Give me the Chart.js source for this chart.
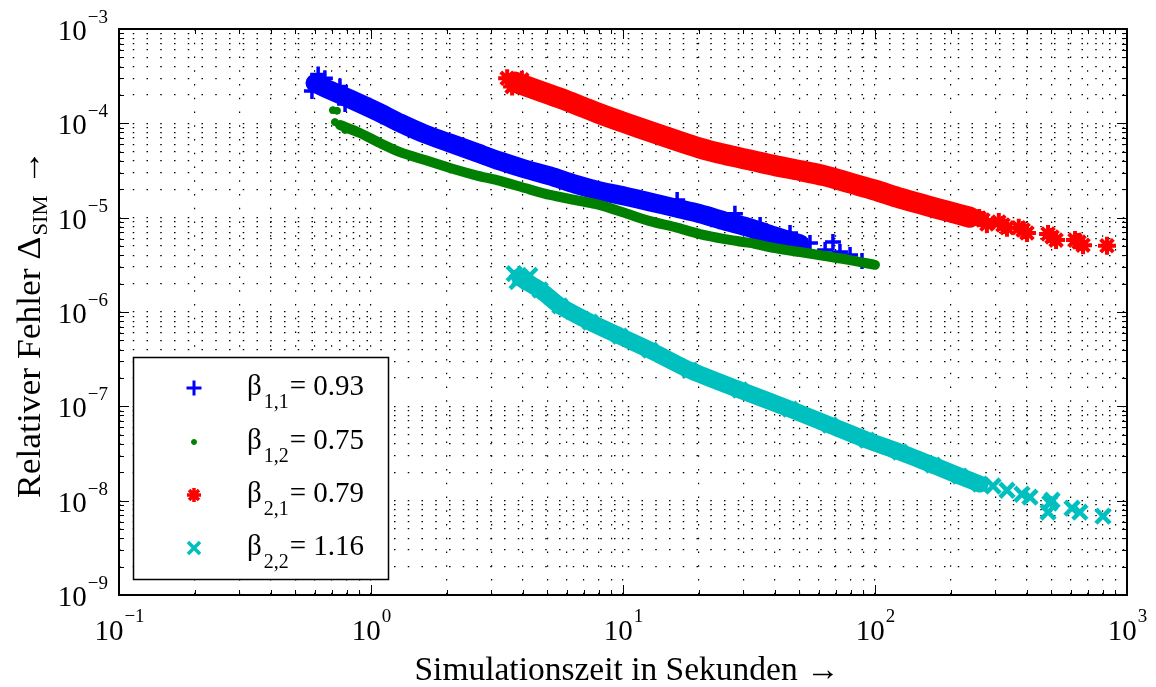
<!DOCTYPE html>
<html>
<head>
<meta charset="utf-8">
<script src="https://cdn.jsdelivr.net/npm/chart.js@4.4.1/dist/chart.umd.min.js"></script>
<style>
  html, body { margin: 0; padding: 0; background: #fff; }
  #wrap { width: 1156px; height: 687px; }
</style>
</head>
<body>
<div id="wrap"><canvas id="errChart" width="1156" height="687"></canvas></div>
<script>
// axis decades and their exponent labels
const xMajor = [0.1, 1, 10, 100, 1000];
const xExp   = ['\u22121', '0', '1', '2', '3'];
const yMajor = [1e-9, 1e-8, 1e-7, 1e-6, 1e-5, 1e-4, 1e-3];
const yExp   = ['\u22129', '\u22128', '\u22127', '\u22126', '\u22125', '\u22124', '\u22123'];

// legend text
const legendSub = ['1,1', '1,2', '2,1', '2,2'];
const legendVal = ['0.93', '0.75', '0.79', '1.16'];

// beta 1,1 (blue +): dense band centre, then loose points
const b11BodyX = [0.600, 0.687, 0.826, 1.086, 1.303, 1.637, 2.057, 2.587, 3.25, 4.08, 5.13, 6.45, 8.11, 10.2, 12.8, 16.1, 20.2, 25.4, 31.9, 40.1, 50.4];
const b11BodyY = [2.67e-4, 2.25e-4, 1.81e-4, 1.29e-4, 1.01e-4, 7.7e-5, 6.18e-5, 4.96e-5, 3.98e-5, 3.28e-5, 2.77e-5, 2.27e-5, 1.92e-5, 1.69e-5, 1.47e-5, 1.27e-5, 1.10e-5, 9.2e-6, 7.8e-6, 6.38e-6, 5.27e-6];
const b11SpotX = [0.617, 0.583, 0.656, 0.753, 0.789, 0.62, 16.4, 27.8, 35.0, 46.0, 55.2, 63.4, 68.1, 72.6, 79.6, 88.8];
const b11SpotY = [3.30e-4, 2.2e-4, 3.0e-4, 2.45e-4, 1.6e-4, 2.6e-4, 1.54e-5, 1.10e-5, 8.35e-6, 6.87e-6, 5.4e-6, 4.53e-6, 5.51e-6, 4.32e-6, 4.01e-6, 3.47e-6];

// beta 1,2 (green dots)
const b12BodyX = [0.753, 0.904, 1.086, 1.303, 1.637, 2.057, 2.587, 3.25, 4.08, 5.13, 6.45, 8.11, 10.2, 12.8, 16.1, 20.2, 25.4, 31.9, 40.1, 50.4, 63.4, 79.6, 100];
const b12BodyY = [9.6e-5, 7.9e-5, 6.18e-5, 4.96e-5, 4.08e-5, 3.36e-5, 2.83e-5, 2.45e-5, 2.06e-5, 1.74e-5, 1.54e-5, 1.36e-5, 1.12e-5, 9.2e-6, 7.94e-6, 6.70e-6, 5.93e-6, 5.4e-6, 4.76e-6, 4.32e-6, 3.92e-6, 3.55e-6, 3.16e-6];
const b12SpotX = [0.706, 0.733, 0.719, 0.789];
const b12SpotY = [1.38e-4, 1.36e-4, 1.03e-4, 8.5e-5];

// beta 2,1 (red *)
const b21BodyX = [3.73, 4.69, 5.62, 6.75, 8.11, 10.2, 12.8, 16.1, 20.2, 25.4, 31.9, 40.1, 50.4, 63.4, 79.6, 100, 125.6, 157.8, 198.6, 238];
const b21BodyY = [2.74e-4, 2.20e-4, 1.85e-4, 1.53e-4, 1.26e-4, 1.01e-4, 8.19e-5, 6.65e-5, 5.47e-5, 4.67e-5, 4.08e-5, 3.56e-5, 3.16e-5, 2.77e-5, 2.33e-5, 1.96e-5, 1.61e-5, 1.36e-5, 1.15e-5, 1.01e-5];
const b21SpotX = [3.47, 3.63, 3.97, 259, 278, 268, 310, 322, 334, 372, 387, 401, 486, 504, 523, 622, 645, 669, 833];
const b21SpotY = [3.0e-4, 2.45e-4, 2.9e-4, 9.9e-6, 8.55e-6, 9.44e-6, 8.98e-6, 8.35e-6, 7.8e-6, 7.8e-6, 7.39e-6, 6.87e-6, 6.70e-6, 6.25e-6, 5.78e-6, 5.78e-6, 5.51e-6, 5.11e-6, 5.03e-6];

// beta 2,2 (cyan x)
const b22BodyX = [3.90, 4.69, 5.62, 7.40, 9.72, 12.8, 18.4, 29.1, 46.0, 66.2, 92.9, 125.6, 169.8, 217, 261];
const b22BodyY = [2.29e-6, 1.71e-6, 1.16e-6, 7.82e-7, 5.55e-7, 3.94e-7, 2.42e-7, 1.49e-7, 9.34e-8, 6.32e-8, 4.38e-8, 3.27e-8, 2.38e-8, 1.82e-8, 1.50e-8];
const b22SpotX = [3.70, 4.27, 3.80, 294, 334, 383, 412, 504, 494, 486, 605, 650, 803];
const b22SpotY = [2.55e-6, 2.45e-6, 2.1e-6, 1.43e-8, 1.29e-8, 1.17e-8, 1.09e-8, 1.01e-8, 9.4e-9, 7.55e-9, 8.32e-9, 7.55e-9, 6.85e-9];

const SERIF = '"Liberation Serif", "DejaVu Serif", serif';

const COLORS = {
  blue:  '#0000ff',
  green: '#008000',
  red:   '#ff0000',
  cyan:  '#00bfbf',
};

// marker look per series (also used by the legend)
const MARKS = [
  { color: COLORS.blue,  style: 'cross',    radius: 8,   lw: 3.5, band: 19, legR: 7.5, legW: 3 },
  { color: COLORS.green, style: 'circle',   radius: 3.5, lw: 1,   band: 10, legR: 2.5, legW: 1 },
  { color: COLORS.red,   style: 'star',     radius: 9,   lw: 4,   band: 21, legR: 7,   legW: 3.5 },
  { color: COLORS.cyan,  style: 'crossRot', radius: 10,  lw: 4.5, band: 17, legR: 8.5, legW: 3.5 },
];

function pairs(xs, ys) {
  return xs.map((v, i) => ({ x: v, y: ys[i] }));
}

function logTicks(majors) {
  const out = [];
  majors.forEach((m, i) => {
    out.push({ value: m, major: true });
    if (i < majors.length - 1) {
      for (let k = 2; k <= 9; k++) out.push({ value: m * k, major: false });
    }
  });
  return out;
}

function bodySet(xs, ys, mk) {
  return {
    data: pairs(xs, ys),
    showLine: true,
    borderColor: mk.color,
    borderWidth: mk.band,
    borderCapStyle: 'round',
    borderJoinStyle: 'round',
    tension: 0.25,
    pointStyle: mk.style,
    pointRadius: mk.radius,
    pointBorderWidth: mk.lw,
    pointBorderColor: mk.color,
    pointBackgroundColor: mk.color,
  };
}

function spotSet(xs, ys, mk) {
  return {
    data: pairs(xs, ys),
    showLine: false,
    pointStyle: mk.style,
    pointRadius: mk.radius,
    pointBorderWidth: mk.lw,
    pointBorderColor: mk.color,
    pointBackgroundColor: mk.color,
  };
}

// frame, inward ticks, labels, titles and legend (MATLAB look)
const matlabFrame = {
  id: 'matlabFrame',
  afterDraw(chart) {
    const { ctx, chartArea: a, scales: { x, y } } = chart;
    ctx.save();

    // inward ticks on all four sides
    ctx.strokeStyle = '#000';
    ctx.lineWidth = 1;
    ctx.beginPath();
    x.ticks.forEach(t => {
      const p = Math.round(x.getPixelForValue(t.value)) + 0.5;
      const len = t.major ? 10 : 5;
      ctx.moveTo(p, a.bottom); ctx.lineTo(p, a.bottom - len);
      ctx.moveTo(p, a.top);    ctx.lineTo(p, a.top + len);
    });
    y.ticks.forEach(t => {
      const p = Math.round(y.getPixelForValue(t.value)) + 0.5;
      const len = t.major ? 10 : 5;
      ctx.moveTo(a.left, p);  ctx.lineTo(a.left + len, p);
      ctx.moveTo(a.right, p); ctx.lineTo(a.right - len, p);
    });
    ctx.stroke();

    ctx.lineWidth = 2;
    ctx.strokeRect(a.left, a.top, a.right - a.left, a.bottom - a.top);

    // tick labels 10^n
    ctx.fillStyle = '#000';
    ctx.textBaseline = 'alphabetic';
    const big = `29px ${SERIF}`, small = `19px ${SERIF}`;

    xMajor.forEach((v, i) => {
      const p = x.getPixelForValue(v);
      ctx.font = big;   const w10 = ctx.measureText('10').width;
      ctx.font = small; const we = ctx.measureText(xExp[i]).width;
      const left = p - (w10 + we) / 2;
      ctx.textAlign = 'left';
      ctx.font = big;   ctx.fillText('10', left, a.bottom + 45);
      ctx.font = small; ctx.fillText(xExp[i], left + w10 + 1, a.bottom + 27);
    });

    yMajor.forEach((v, i) => {
      const p = y.getPixelForValue(v);
      ctx.font = small; const we = ctx.measureText(yExp[i]).width;
      ctx.textAlign = 'right';
      ctx.fillText(yExp[i], a.left - 11, p - 6);
      ctx.font = big;
      ctx.fillText('10', a.left - 12 - we, p + 11);
    });

    // x title
    ctx.textAlign = 'left';
    ctx.font = `33px ${SERIF}`;
    const xt = 'Simulationszeit in Sekunden \u2192';
    const xw = ctx.measureText(xt).width;
    ctx.save();
    ctx.translate(627, 680);
    ctx.scale(425 / xw, 1);
    ctx.fillText(xt, -xw / 2, 0);
    ctx.restore();

    // y title with subscript
    const p1 = 'Relativer Fehler \u0394', p2 = 'SIM', p3 = ' \u2192';
    ctx.font = `33px ${SERIF}`; const w1 = ctx.measureText(p1).width;
    ctx.font = `21px ${SERIF}`; const w2 = ctx.measureText(p2).width;
    ctx.font = `33px ${SERIF}`; const w3 = ctx.measureText(p3).width;
    const tot = w1 + w2 + w3 + 2;
    ctx.save();
    ctx.translate(40, 324);
    ctx.rotate(-Math.PI / 2);
    ctx.scale(348 / tot, 1);
    let cx = -tot / 2;
    ctx.font = `33px ${SERIF}`; ctx.fillText(p1, cx, 0); cx += w1 + 1;
    ctx.font = `21px ${SERIF}`; ctx.fillText(p2, cx, 7); cx += w2 + 1;
    ctx.font = `33px ${SERIF}`; ctx.fillText(p3, cx, 0);
    ctx.restore();

    // legend box
    const bx = 133.5, by = 357.5, bw = 255, bh = 222;
    ctx.fillStyle = '#fff';
    ctx.fillRect(bx, by, bw, bh);
    ctx.strokeStyle = '#000';
    ctx.lineWidth = 1.5;
    ctx.strokeRect(bx, by, bw, bh);

    const rows = [388, 442, 495, 548];
    rows.forEach((ry, i) => {
      const mk = MARKS[i];
      ctx.strokeStyle = mk.color;
      ctx.fillStyle = mk.color;
      ctx.lineWidth = mk.legW;
      Chart.helpers.drawPoint(ctx, {
        pointStyle: mk.style,
        radius: mk.legR,
        borderWidth: mk.legW,
        rotation: 0,
      }, 194, ry);

      ctx.fillStyle = '#000';
      ctx.textAlign = 'left';
      ctx.font = `29px ${SERIF}`;
      ctx.fillText('\u03b2', 247, ry + 7);
      const wb = ctx.measureText('\u03b2').width;
      ctx.font = `20px ${SERIF}`;
      ctx.fillText(legendSub[i], 247 + wb + 2, ry + 20);
      const ws = ctx.measureText(legendSub[i]).width;
      ctx.font = `29px ${SERIF}`;
      ctx.fillText('= ' + legendVal[i], 247 + wb + 2 + ws + 1, ry + 7);
    });

    ctx.restore();
  }
};

const gridOpts = {
  color: '#000',
  lineWidth: 1.2,
  drawTicks: false,
};

new Chart(document.getElementById('errChart').getContext('2d'), {
  type: 'scatter',
  data: {
    datasets: [
      bodySet(b12BodyX, b12BodyY, MARKS[1]),
      spotSet(b12SpotX, b12SpotY, MARKS[1]),
      bodySet(b11BodyX, b11BodyY, MARKS[0]),
      spotSet(b11SpotX, b11SpotY, MARKS[0]),
      bodySet(b21BodyX, b21BodyY, MARKS[2]),
      spotSet(b21SpotX, b21SpotY, MARKS[2]),
      bodySet(b22BodyX, b22BodyY, MARKS[3]),
      spotSet(b22SpotX, b22SpotY, MARKS[3]),
    ]
  },
  options: {
    responsive: false,
    animation: false,
    devicePixelRatio: 1,
    events: [],
    layout: { padding: { left: 119, top: 29, right: 29, bottom: 92 } },
    plugins: {
      legend: { display: false },
      tooltip: { enabled: false },
    },
    scales: {
      x: {
        type: 'logarithmic',
        min: 0.1, max: 1000,
        afterBuildTicks: s => { s.ticks = logTicks(xMajor); },
        ticks: { display: false },
        grid: gridOpts,
        border: { display: false, dash: [1.5, 12.25] },
      },
      y: {
        type: 'logarithmic',
        min: 1e-9, max: 1e-3,
        afterBuildTicks: s => { s.ticks = logTicks(yMajor); },
        ticks: { display: false },
        grid: gridOpts,
        border: { display: false, dash: [1.5, 12.25] },
      }
    }
  },
  plugins: [matlabFrame]
});
</script>
</body>
</html>
